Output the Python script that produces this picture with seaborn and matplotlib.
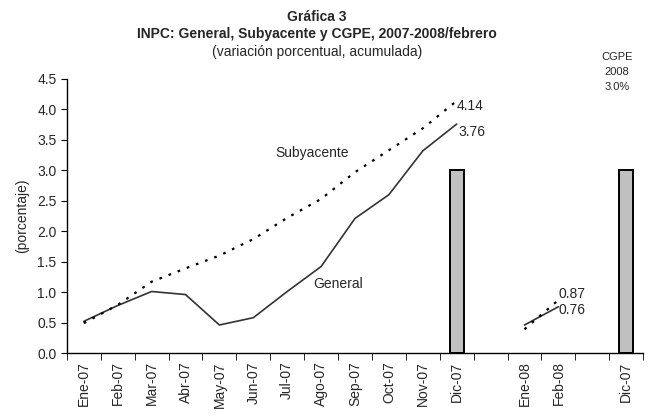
import numpy as np
import pandas as pd
import matplotlib
matplotlib.use("Agg")
import matplotlib.pyplot as plt
import seaborn as sns
from matplotlib.ticker import FixedLocator, FormatStrFormatter

# Categories (blank slots are gaps in the chart)
categories = ["Ene-07", "Feb-07", "Mar-07", "Abr-07", "May-07", "Jun-07",
              "Jul-07", "Ago-07", "Sep-07", "Oct-07", "Nov-07", "Dic-07",
              "", "Ene-08", "Feb-08", "", "Dic-07"]

# INPC general, 2007 and 2008
general_2007 = [0.52, 0.78, 1.01, 0.96, 0.46, 0.58, 1.01, 1.42, 2.21, 2.60, 3.32, 3.76]
general_2008 = [0.46, 0.76]
# INPC subyacente
subyacente_2007 = [0.49, 0.79, 1.17, 1.39, 1.60, 1.87, 2.22, 2.53, 2.97, 3.33, 3.69, 4.14]
subyacente_2008 = [0.39, 0.87]
# CGPE target bars
cgpe = [np.nan] * 11 + [3.0] + [np.nan] * 4 + [3.0]

pos = np.arange(len(categories))
idx_2007 = pos[:12]
idx_2008 = pos[13:15]

sns.set_style("ticks")
plt.rcParams["font.family"] = ["Liberation Sans", "DejaVu Sans"]
FS = 10

fig = plt.figure(figsize=(6.49, 4.19), dpi=100)
ax = fig.add_axes([0.103, 0.1575, 0.888, 0.654])

# Bars (one slot per category, empty where there is no bar)
bars = pd.DataFrame({"pos": pos, "val": cgpe})
sns.barplot(data=bars, x="pos", y="val", order=list(pos), width=0.41,
            color="#c0c0c0", edgecolor="black", linewidth=1.4,
            saturation=1, errorbar=None, ax=ax)

# Lines
for xs, ys in [(idx_2007, general_2007), (idx_2008, general_2008)]:
    sns.lineplot(x=xs, y=ys, color="#333333", linewidth=1.2, ax=ax, sort=False)
for xs, ys in [(idx_2007, subyacente_2007), (idx_2008, subyacente_2008)]:
    sns.lineplot(x=xs, y=ys, color="black", linewidth=1.6, ax=ax, sort=False,
                 linestyle=(0, (1.2, 3.2)))

# End-point labels
ax.annotate(f"{subyacente_2007[-1]:.2f}", (idx_2007[-1], subyacente_2007[-1]),
            xytext=(0, -4), textcoords="offset points", fontsize=FS, va="center")
ax.annotate(f"{general_2007[-1]:.2f}", (idx_2007[-1], general_2007[-1]),
            xytext=(1, -6), textcoords="offset points", fontsize=FS, va="center")
ax.annotate(f"{subyacente_2008[-1]:.2f}", (idx_2008[-1], subyacente_2008[-1]),
            xytext=(0, 4), textcoords="offset points", fontsize=FS, va="center")
ax.annotate(f"{general_2008[-1]:.2f}", (idx_2008[-1], general_2008[-1]),
            xytext=(0, -2), textcoords="offset points", fontsize=FS, va="center")

ax.text(5.64, 3.28, "Subyacente", fontsize=FS, ha="left", va="center")
ax.text(6.76, 1.13, "General", fontsize=FS, ha="left", va="center")

# Axes
ax.set_xlim(-0.5, len(categories) - 0.5)
ax.set_ylim(0, 4.5)
ax.set_yticks(np.arange(0, 4.51, 0.5))
ax.yaxis.set_major_formatter(FormatStrFormatter("%.1f"))
ax.set_xticks(pos)
ax.set_xticklabels(categories, rotation=90)
ax.xaxis.set_minor_locator(FixedLocator(np.arange(-0.5, len(categories), 1)))
ax.tick_params(axis="x", which="major", length=0, labelsize=FS, pad=6)
ax.tick_params(axis="x", which="minor", length=5, direction="out", color="black")
ax.tick_params(axis="y", length=4, labelsize=FS, color="black")
ax.set_xlabel("")
ax.set_ylabel("(porcentaje)", fontsize=FS, labelpad=6)
sns.despine(ax=ax)
for s in ["left", "bottom"]:
    ax.spines[s].set_color("black")
    ax.spines[s].set_linewidth(1.0)

# Titles
fig.text(0.488, 0.959, "Gráfica 3", fontsize=FS, fontweight="bold", ha="center", va="center")
fig.text(0.488, 0.919, "INPC: General, Subyacente y CGPE, 2007-2008/febrero",
         fontsize=FS, fontweight="bold", ha="center", va="center")
fig.text(0.488, 0.876, "(variación porcentual, acumulada)", fontsize=FS,
         ha="center", va="center")
fig.text(0.951, 0.828, "CGPE\n2008\n3.0%", fontsize=8, ha="center", va="center",
         linespacing=1.6)

fig.savefig("out.png", dpi=100)
